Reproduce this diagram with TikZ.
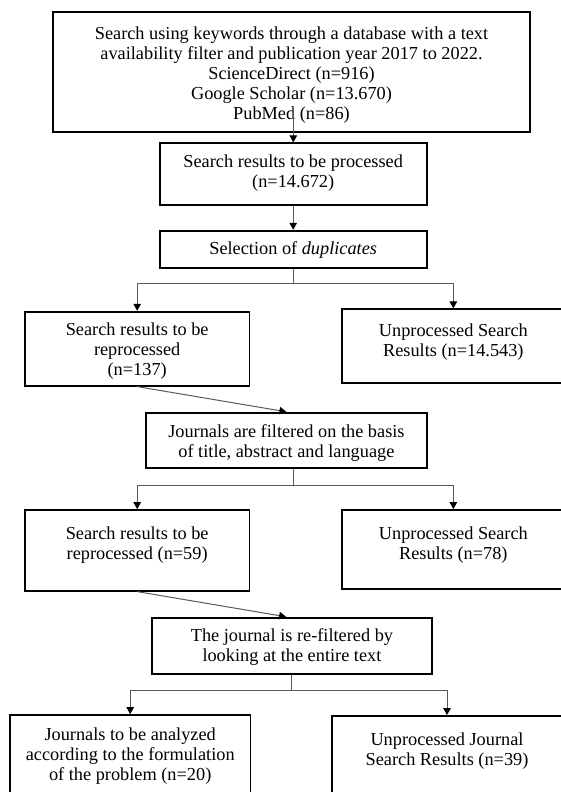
\documentclass[tikz,border=0pt]{standalone}
\usepackage{fontspec}
\setmainfont{Liberation Serif}
\usetikzlibrary{arrows.meta,calc}
\begin{document}
\begin{tikzpicture}[x=1pt,y=-1pt,
  box/.style={draw=black,line width=1.8pt,rectangle,inner sep=0pt},
  txt/.style={align=center,inner sep=0pt,font=\fontsize{18.3}{20}\selectfont},
  conn/.style={draw=black!65,line width=1pt},
  arr/.style={conn,-{Triangle[length=7pt,width=7.5pt,color=black]}}]
\useasboundingbox (0,0) rectangle (561,792);
\fill[white] (0,0) rectangle (561,792);
\clip (0,0) rectangle (561,792);
% boxes
\node[box,minimum width=477pt,minimum height=120.3pt,
  label={[txt,yshift=-3.3pt]center:{Search using keywords through a database with a text\\availability filter and publication year 2017 to 2022.\\ScienceDirect (n=916)\\Google Scholar (n=13.670)\\PubMed (n=86)}}]
  (top) at (291.5,71.85) {};
\node[box,minimum width=267.2pt,minimum height=61.7pt,
  label={[txt,yshift=0.9pt]center:{Search results to be processed\\(n=14.672)}}]
  (b2) at (293.2,174.15) {};
\node[box,minimum width=267.2pt,minimum height=37pt,
  label={[txt,yshift=-0.6pt]center:{Selection of \textit{duplicates}}}]
  (b3) at (293.2,249.2) {};
\node[box,minimum width=224.4pt,minimum height=74pt,
  label={[txt,yshift=-2.8pt]center:{Search results to be\\reprocessed\\(n=137)}}]
  (bl1) at (137.2,348.7) {};
\node[box,minimum width=223.3pt,minimum height=73.4pt,
  label={[txt,yshift=3.5pt]center:{Unprocessed Search\\Results (n=14.543)}}]
  (br1) at (453.35,346) {};
\node[box,minimum width=280.8pt,minimum height=55.6pt,
  label={[txt,yshift=-2.8pt]center:{Journals are filtered on the basis\\of title, abstract and language}}]
  (b4) at (286.4,440.5) {};
\node[box,minimum width=224.4pt,minimum height=80.7pt,
  label={[txt,yshift=4.8pt]center:{Search results to be\\reprocessed (n=59)}}]
  (bl2) at (137.2,550.35) {};
\node[box,minimum width=223.3pt,minimum height=79.3pt,
  label={[txt,yshift=4.1pt]center:{Unprocessed Search\\Results (n=78)}}]
  (br2) at (453.35,549.65) {};
\node[box,minimum width=280.5pt,minimum height=56.3pt,
  label={[txt,yshift=-1.4pt]center:{The journal is re-filtered by\\looking at the entire text}}]
  (b5) at (291.95,645.85) {};
\node[box,minimum width=240.4pt,minimum height=85pt,
  label={[txt,yshift=1pt]center:{Journals to be analyzed\\according to the formulation\\of the problem (n=20)}}]
  (bl3) at (130.2,757.5) {};
\node[box,minimum width=230pt,minimum height=84pt,
  label={[txt,yshift=6.5pt]center:{Unprocessed Journal\\Search Results (n=39)}}]
  (br3) at (447,758) {};
% connectors
\coordinate (s1) at (293.3,107);
\draw[arr] (s1) -- (s1 |- b2.north);
\draw[arr] (b2.south) -- (b3.north);
\draw[conn] (b3.south) -- ++(0,15) coordinate (j1);
\draw[arr] (j1) -| (bl1.north);
\draw[arr] (j1) -| (br1.north);
\draw[arr] (bl1.south) -- (b4.north);
\draw[conn] (b4.south -| j1) -- ++(0,16) coordinate (j2);
\draw[arr] (j2) -| (bl2.north);
\draw[arr] (j2) -| (br2.north);
\draw[arr] (bl2.south) -- ($(b5.north)+(-5.8,0)$);
\draw[conn] (b5.south) -- ++(0,15.3) coordinate (j3);
\draw[arr] (j3) -| (bl3.north);
\draw[arr] (j3) -| (br3.north);
\end{tikzpicture}
\end{document}
